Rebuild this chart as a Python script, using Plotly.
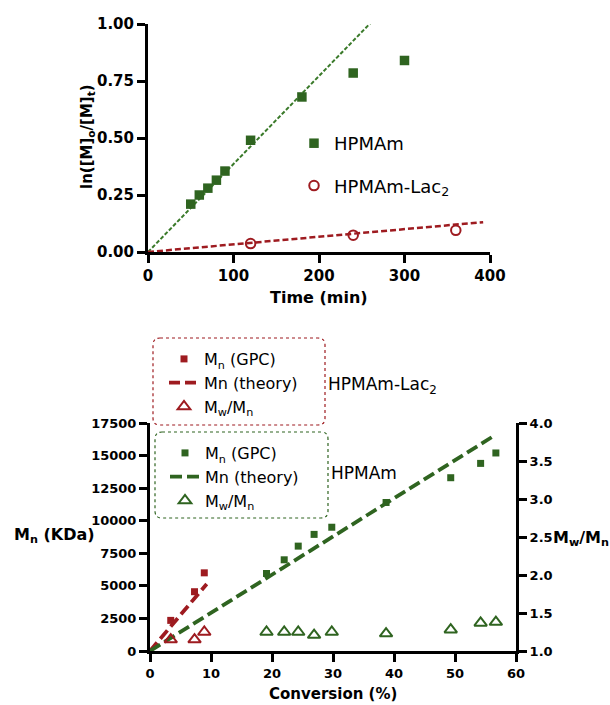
import plotly.graph_objects as go

W, H = 610, 705

# ---------------- Top panel data ----------------
time_hpmam = [50, 60, 70, 80, 90, 120, 180, 240, 300]
ln_hpmam = [0.21, 0.25, 0.28, 0.315, 0.355, 0.49, 0.68, 0.785, 0.84]
time_lac = [120, 240, 360]
ln_lac = [0.037, 0.074, 0.095]
fit_hpmam_t = [0, 270]
fit_hpmam_y = [0, 1.042]
fit_lac_t = [0, 392]
fit_lac_y = [0, 0.131]
top_xticks = [0, 100, 200, 300, 400]
top_yticks = [0.0, 0.25, 0.5, 0.75, 1.0]

# ---------------- Bottom panel data ----------------
conv_hpmam = [19.1, 22.0, 24.3, 26.9, 29.8, 38.7, 49.3, 54.2, 56.7]
mn_hpmam = [5950, 7000, 8050, 8950, 9500, 11400, 13300, 14400, 15200]
pdi_hpmam = [1.25, 1.25, 1.25, 1.21, 1.25, 1.23, 1.28, 1.37, 1.38]
conv_lac = [3.4, 7.3, 8.9]
mn_lac = [2350, 4550, 6000]
pdi_lac = [1.15, 1.15, 1.25]
theory_hpmam_conv = [0, 56.5]
theory_hpmam_mn = [0, 16550]
theory_lac_conv = [0, 9.3]
theory_lac_mn = [0, 5150]
bot_xticks = [0, 10, 20, 30, 40, 50, 60]
bot_yticks = [0, 2500, 5000, 7500, 10000, 12500, 15000, 17500]
bot_y2ticks = [1.0, 1.5, 2.0, 2.5, 3.0, 3.5, 4.0]

GREEN = "#2f6420"
GREEN_L = "#3a7a2a"
RED = "#9e1b20"
FONT = "DejaVu Sans"


def px(x):
    return x / W


def py(y):
    return 1 - y / H


fig = go.Figure()

# ---- top panel ----
fig.add_trace(go.Scatter(x=fit_hpmam_t, y=fit_hpmam_y, mode="lines",
                         line=dict(color=GREEN_L, width=2, dash="4px,2px"),
                         showlegend=False, xaxis="x", yaxis="y"))
fig.add_trace(go.Scatter(x=fit_lac_t, y=fit_lac_y, mode="lines",
                         line=dict(color=RED, width=2.5, dash="6px,3px"),
                         showlegend=False, xaxis="x", yaxis="y"))
fig.add_trace(go.Scatter(x=time_hpmam, y=ln_hpmam, mode="markers", name="HPMAm",
                         marker=dict(symbol="square", size=9.5, color=GREEN),
                         legend="legend", legendgroup="a", xaxis="x", yaxis="y",
                         cliponaxis=False))
fig.add_trace(go.Scatter(x=time_lac, y=ln_lac, mode="markers", name="HPMAm-Lac<sub>2</sub>",
                         marker=dict(symbol="circle-open", size=9.5, color=RED,
                                     line=dict(width=2, color=RED)),
                         legend="legend", legendgroup="b", xaxis="x", yaxis="y",
                         cliponaxis=False))

# ---- bottom panel: HPMAm-Lac2 ----
fig.add_trace(go.Scatter(x=conv_lac, y=mn_lac, mode="markers", name="M<sub>n</sub> (GPC)",
                         marker=dict(symbol="square", size=7, color=RED),
                         legend="legend2", xaxis="x2", yaxis="y2"))
fig.add_trace(go.Scatter(x=theory_lac_conv, y=theory_lac_mn, mode="lines", name="Mn (theory)",
                         line=dict(color=RED, width=3.8, dash="11px,5px"),
                         legend="legend2", xaxis="x2", yaxis="y2"))
fig.add_trace(go.Scatter(x=conv_lac, y=pdi_lac, mode="markers", name="M<sub>w</sub>/M<sub>n</sub>",
                         marker=dict(symbol="triangle-up-open", size=11, color=RED,
                                     line=dict(width=2, color=RED)),
                         legend="legend2", xaxis="x2", yaxis="y3", cliponaxis=False))

# ---- bottom panel: HPMAm ----
fig.add_trace(go.Scatter(x=conv_hpmam, y=mn_hpmam, mode="markers", name="M<sub>n</sub> (GPC)",
                         marker=dict(symbol="square", size=7, color=GREEN),
                         legend="legend3", xaxis="x2", yaxis="y2"))
fig.add_trace(go.Scatter(x=theory_hpmam_conv, y=theory_hpmam_mn, mode="lines", name="Mn (theory)",
                         line=dict(color=GREEN, width=3.8, dash="12px,5px"),
                         legend="legend3", xaxis="x2", yaxis="y2"))
fig.add_trace(go.Scatter(x=conv_hpmam, y=pdi_hpmam, mode="markers", name="M<sub>w</sub>/M<sub>n</sub>",
                         marker=dict(symbol="triangle-up-open", size=11, color=GREEN,
                                     line=dict(width=2, color=GREEN)),
                         legend="legend3", xaxis="x2", yaxis="y3", cliponaxis=False))

axis_common = dict(showline=True, linewidth=3, linecolor="black", ticks="outside",
                   ticklen=8, tickwidth=3, tickcolor="black", showgrid=False,
                   zeroline=False, mirror=False)
tf_top = dict(family=FONT, size=15, color="black", weight="bold")
tf_bot = dict(family=FONT, size=13, color="black", weight="bold")

fig.update_layout(
    width=W, height=H, margin=dict(l=0, r=0, t=0, b=0, autoexpand=False),
    paper_bgcolor="white", plot_bgcolor="white",
    font=dict(family=FONT, color="black"),
    xaxis=dict(domain=[px(148), px(490)], range=[0, 400], tickvals=top_xticks,
               anchor="y", tickfont=tf_top, **axis_common),
    yaxis=dict(domain=[py(252), py(24)], range=[0, 1], tickvals=top_yticks,
               tickformat=".2f", anchor="x", tickfont=tf_top, **axis_common),
    xaxis2=dict(domain=[px(150), px(516)], range=[0, 60], tickvals=bot_xticks,
                anchor="y2", tickfont=tf_bot, **axis_common),
    yaxis2=dict(domain=[py(651), py(423)], range=[0, 17500], tickvals=bot_yticks,
                tickformat="d", anchor="x2", tickfont=tf_bot, **axis_common),
    yaxis3=dict(range=[1, 4], tickvals=bot_y2ticks, tickformat=".1f", anchor="x2",
                overlaying="y2", side="right", tickfont=tf_bot, **axis_common),
    legend=dict(x=px(294), y=py(125), xanchor="left", yanchor="top",
                bgcolor="rgba(0,0,0,0)", font=dict(family=FONT, size=18, color="black"),
                tracegroupgap=16, traceorder="grouped"),
    legend2=dict(x=px(164), y=py(342), xanchor="left", yanchor="top",
                 bgcolor="rgba(0,0,0,0)", font=dict(family=FONT, size=16, color="black"),
                 traceorder="normal"),
    legend3=dict(x=px(165), y=py(436), xanchor="left", yanchor="top",
                 bgcolor="rgba(0,0,0,0)", font=dict(family=FONT, size=16, color="black"),
                 traceorder="normal"),
)


def rounded(x0, y0, x1, y1, r):
    pts = [
        ("M", x0 + r, y0), ("L", x1 - r, y0), ("Q", x1, y0, x1, y0 + r),
        ("L", x1, y1 - r), ("Q", x1, y1, x1 - r, y1), ("L", x0 + r, y1),
        ("Q", x0, y1, x0, y1 - r), ("L", x0, y0 + r), ("Q", x0, y0, x0 + r, y0),
    ]
    s = ""
    for p in pts:
        cmd = p[0]
        coords = p[1:]
        parts = []
        for i in range(0, len(coords), 2):
            parts.append(f"{px(coords[i]):.5f},{py(coords[i + 1]):.5f}")
        s += cmd + " " + " ".join(parts) + " "
    return s + "Z"


fig.add_shape(type="path", xref="paper", yref="paper", path=rounded(153, 338, 325, 425, 7),
              line=dict(color=RED, width=1.2, dash="dot"))
fig.add_shape(type="path", xref="paper", yref="paper", path=rounded(155, 432, 328, 518, 7),
              line=dict(color=GREEN, width=1.2, dash="dot"))

annots = [
    dict(text="<b>ln([M]<sub>o</sub>/[M]<sub>t</sub>)</b>", x=px(88), y=py(137), textangle=-90,
         xanchor="center", yanchor="middle", size=15),
    dict(text="<b>Time (min)</b>", x=px(319), y=py(297), xanchor="center", yanchor="middle", size=16),
    dict(text="<b>Conversion (%)</b>", x=px(333), y=py(694), xanchor="center", yanchor="middle", size=15),
    dict(text="<b>M<sub>n</sub> (KDa)</b>", x=px(12), y=py(535), xanchor="left", yanchor="middle", size=16),
    dict(text="<b>M<sub>w</sub>/M<sub>n</sub></b>", x=px(551), y=py(538), xanchor="left", yanchor="middle", size=16),
    dict(text="HPMAm-Lac<sub>2</sub>", x=px(326), y=py(385), xanchor="left", yanchor="middle", size=17),
    dict(text="HPMAm", x=px(329), y=py(473), xanchor="left", yanchor="middle", size=17),
]
for a in annots:
    size = a.pop("size")
    fig.add_annotation(xref="paper", yref="paper", showarrow=False,
                       font=dict(family=FONT, size=size, color="black"), **a)

fig.write_html("out.html", config={"displayModeBar": False},
               post_script="document.body.style.margin='0';document.body.style.overflow='hidden';")
